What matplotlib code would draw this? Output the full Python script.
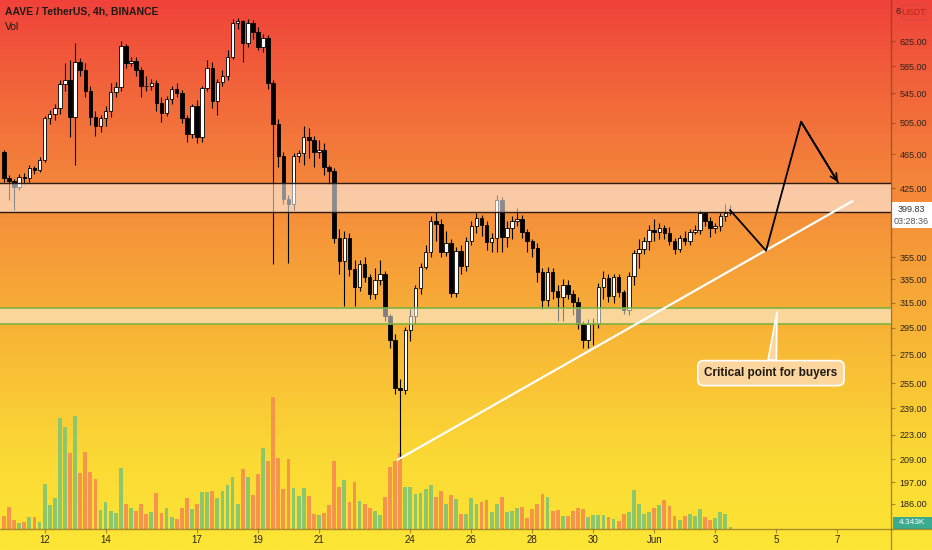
import numpy as np
import matplotlib
matplotlib.use('Agg')
import matplotlib.pyplot as plt
from matplotlib.colors import LinearSegmentedColormap
from matplotlib.patches import Rectangle, FancyBboxPatch
from matplotlib.lines import Line2D
from matplotlib.ticker import FixedLocator, FixedFormatter, NullLocator

plt.rcParams['font.family'] = ['Liberation Sans', 'DejaVu Sans']

# ---- data (AAVE/USDT 4h candles) ----
first_open = 467
closes = [437, 433, 427, 438, 437, 448, 446, 458, 511, 516,
          524, 558, 565, 512, 592, 580, 549, 512, 500, 511,
          521, 547, 554, 617, 590, 593, 580, 556, 555, 560,
          531, 518, 537, 552, 546, 511, 490, 527, 486, 553,
          582, 534, 562, 571, 600, 655, 658, 622, 655, 640,
          615, 630, 560, 503, 463, 413, 408, 463, 466, 486,
          482, 467, 470, 449, 445, 373, 351, 373, 344, 328,
          349, 337, 322, 334, 340, 304, 286, 252, 251, 293,
          304, 327, 346, 360, 390, 387, 360, 368, 323, 361,
          347, 370, 385, 393, 386, 369, 373, 412, 374, 383,
          390, 392, 379, 370, 364, 341, 317, 341, 325, 320,
          330, 322, 316, 298, 286, 298, 299, 328, 336, 321,
          337, 324, 309, 338, 359, 363, 370, 381, 379, 383,
          378, 370, 363, 373, 370, 379, 381, 398, 390, 383,
          385, 395, 398, 399.83]
highs = [470, 440, 436, 441, 442, 452, 451, 462, 514, 522,
         530, 565, 590, 595, 622, 598, 590, 556, 520, 515,
         528, 560, 562, 625, 620, 600, 600, 584, 570, 566,
         565, 540, 542, 556, 560, 550, 515, 530, 535, 556,
         595, 592, 566, 580, 610, 662, 664, 660, 662, 660,
         648, 636, 635, 565, 510, 468, 418, 466, 470, 500,
         498, 488, 482, 478, 452, 448, 382, 380, 378, 352,
         352, 355, 340, 345, 352, 342, 306, 290, 258, 296,
         310, 330, 350, 366, 395, 400, 392, 380, 372, 365,
         366, 374, 390, 398, 396, 390, 378, 418, 416, 390,
         395, 404, 396, 382, 372, 368, 345, 346, 345, 330,
         335, 334, 326, 320, 300, 302, 303, 332, 342, 340,
         340, 340, 326, 341, 362, 372, 374, 386, 392, 388,
         386, 384, 373, 376, 380, 382, 386, 402, 400, 394,
         388, 398, 408, 407]
lows = [432, 412, 402, 423, 430, 432, 441, 444, 455, 503,
        508, 516, 548, 486, 452, 570, 540, 502, 488, 492,
        500, 512, 540, 548, 582, 586, 570, 540, 548, 550,
        520, 506, 514, 530, 540, 505, 480, 485, 478, 480,
        548, 525, 515, 556, 565, 596, 645, 592, 615, 628,
        610, 608, 552, 349, 450, 408, 350, 402, 455, 452,
        460, 450, 460, 440, 430, 368, 340, 312, 338, 312,
        325, 333, 318, 318, 330, 300, 280, 248, 209, 248,
        285, 298, 322, 344, 355, 370, 355, 356, 320, 320,
        340, 342, 366, 378, 375, 362, 360, 360, 360, 365,
        372, 385, 373, 360, 355, 333, 310, 312, 318, 300,
        300, 318, 305, 294, 280, 280, 282, 295, 318, 316,
        315, 320, 306, 305, 330, 345, 358, 362, 370, 372,
        372, 366, 358, 360, 366, 366, 377, 377, 385, 374,
        378, 380, 390, 396]
volume = [13, 22, 9, 6, 7, 12, 12, 7, 45, 24,
          31, 111, 102, 76, 113, 56, 77, 57, 50, 19,
          27, 18, 16, 61, 25, 21, 18, 25, 15, 17,
          36, 16, 21, 12, 10, 21, 31, 20, 25, 37,
          37, 38, 31, 38, 44, 52, 25, 60, 52, 34,
          55, 81, 68, 132, 71, 40, 70, 41, 33, 41,
          33, 15, 14, 16, 24, 68, 42, 49, 27, 47,
          28, 25, 21, 18, 14, 32, 62, 68, 76, 42,
          42, 35, 36, 40, 44, 32, 38, 25, 34, 30,
          15, 15, 31, 25, 27, 29, 17, 25, 32, 17,
          18, 21, 22, 11, 20, 25, 35, 32, 18, 19,
          13, 13, 18, 21, 20, 12, 14, 14, 14, 12,
          10, 8, 15, 17, 39, 25, 15, 17, 21, 24,
          29, 23, 13, 9, 13, 15, 13, 20, 12, 9,
          11, 17, 15, 2]

first_candle_day = 10.668          # day of May of the first 4h candle
zone_top = [399.5, 431.0]          # resistance zone
zone_bottom = [298.0, 310.5]       # support zone
trend_days = [23.6, 38.5]
trend_prices = [209, 411]
path_days = [34.49, 35.67, 36.82, 38.03]
path_prices = [401.5, 361, 506, 432]
callout_tip = (36.03, 307.5)
callout_pos = (35.83, 262)

price_ticks = [186, 197, 209, 223, 239, 255, 275, 295, 315, 335, 355,
               425, 465, 505, 545, 585, 625]
day_ticks = [12, 14, 17, 19, 21, 24, 26, 28, 30, 32, 34, 36, 38]
day_labels = ['12', '14', '17', '19', '21', '24', '26', '28', '30',
              'Jun', '3', '5', '7']

# ---- figure ----
W, H = 932, 550
fig = plt.figure(figsize=(W / 100, H / 100), dpi=100)

bg = fig.add_axes([0, 0, 1, 1], zorder=0)
cmap = LinearSegmentedColormap.from_list(
    'bg', ['#F0423A', '#F2663B', '#F4863A', '#F6A238', '#F9BF36', '#FBD935', '#FDE634'])
bg.imshow(np.linspace(0, 1, 256).reshape(-1, 1), aspect='auto', cmap=cmap,
          extent=[0, 1, 0, 1])
bg.axis('off')

rect = [0, 21 / H, 891 / W, 529 / H]
vax = fig.add_axes(rect, zorder=1)
ax = fig.add_axes(rect, zorder=2, sharex=vax)
ax.patch.set_alpha(0)
vax.patch.set_alpha(0)

opens = np.array([first_open] + closes[:-1], dtype=float)
closes = np.array(closes, dtype=float)
times = first_candle_day + np.arange(len(closes)) / 6.0
up = closes >= opens

# volume
vcol = np.where(up, '#8dc66b', '#f5944a')
vax.bar(times, volume, width=0.125, color=vcol, linewidth=0)
vax.set_ylim(0, max(volume) * 4.0)
vax.axis('off')

# candles
ax.set_yscale('log')
ax.vlines(times, lows, highs, color='black', lw=0.8, zorder=2)
lo = np.minimum(opens, closes)
hi = np.maximum(opens, closes)
ax.bar(times, hi - lo, bottom=lo, width=0.115,
       color=np.where(up, 'white', 'black'), edgecolor='black', lw=0.6, zorder=2.5)

# zones
ax.axhspan(zone_top[0], zone_top[1], color='white', alpha=0.55, lw=0, zorder=3)
for p in zone_top:
    ax.axhline(p, color='#2b1d14', lw=1.0, zorder=3.2)
ax.axhspan(zone_bottom[0], zone_bottom[1], color='white', alpha=0.5, lw=0, zorder=3)
for p in zone_bottom:
    ax.axhline(p, color='#7cb342', lw=1.2, zorder=3.2)

# trend line and projected path
ax.plot(trend_days, trend_prices, color='white', lw=1.6, zorder=5)
ax.plot(path_days, path_prices, color='black', lw=1.3, zorder=5)
ax.annotate('', xy=(path_days[-1], path_prices[-1]),
            xytext=(path_days[-2], path_prices[-2]),
            arrowprops=dict(arrowstyle='->', color='black', lw=1.3,
                            mutation_scale=12, shrinkA=0, shrinkB=0), zorder=5)

# callout
ax.annotate('Critical point for buyers', xy=callout_tip, xytext=callout_pos,
            ha='center', va='center', fontsize=8.5, fontweight='semibold',
            color='#1f1a14', zorder=6,
            bbox=dict(boxstyle='round,pad=0.55,rounding_size=0.5', fc='#fcd69c',
                      ec='white', lw=1.2),
            arrowprops=dict(arrowstyle='wedge,tail_width=0.7,shrink_factor=0.5',
                            fc='#fcd69c', ec='white', lw=1.2,
                            shrinkA=0, shrinkB=0))

# axes, ticks
ax.set_xlim(10.537, 39.77)
ax.set_ylim(174.2, 696)
ax.yaxis.set_major_locator(FixedLocator(price_ticks))
ax.yaxis.set_major_formatter(FixedFormatter(['%.2f' % p for p in price_ticks]))
ax.yaxis.set_minor_locator(NullLocator())
ax.yaxis.tick_right()
ax.set_xticks(day_ticks)
ax.set_xticklabels(day_labels)
axis_col = (0.35, 0.22, 0.1, 0.5)
ax.tick_params(axis='both', labelsize=6.5, labelcolor='#2a2420', color=axis_col,
               length=3, width=0.8)
ax.tick_params(axis='x', pad=1.5, labelsize=7)
ax.tick_params(axis='y', pad=3)
for s in ['top', 'left', 'right', 'bottom']:
    ax.spines[s].set_visible(False)

# axis lines across full figure
fig.add_artist(Line2D([891 / W, 891 / W], [0, 1], color=axis_col, lw=1))
fig.add_artist(Line2D([0, 1], [21 / H, 21 / H], color=axis_col, lw=1))

# header text
fig.text(5 / W, 1 - 12 / H, 'AAVE / TetherUS, 4h, BINANCE', fontsize=7.5,
         fontweight='bold', color='#1e1a16', va='center')
fig.text(5 / W, 1 - 27 / H, 'Vol', fontsize=7.5, color='#1e1a16', va='center')

# currency badge
fig.text(895 / W, 1 - 12 / H, '6', fontsize=6.5, color='#2a2420', va='center')
fig.add_artist(FancyBboxPatch((901 / W, 1 - 20 / H), 25 / W, 15 / H,
                              boxstyle='round,pad=0,rounding_size=0.004',
                              transform=fig.transFigure, fc='none', ec='#d9473b', lw=0.9))
fig.text(913.5 / W, 1 - 12.5 / H, 'USDT', fontsize=6.5, color='#b3261e', ha='center', va='center')

# last price label
fig.add_artist(Rectangle((892 / W, 1 - 228 / H), 40 / W, 26 / H,
                         transform=fig.transFigure, fc='white', ec='none'))
fig.text(911 / W, 1 - 209 / H, '%.2f' % closes[-1], fontsize=6.5, color='#333333',
         ha='center', va='center')
fig.text(911 / W, 1 - 221 / H, '03:28:36', fontsize=6.5, color='#555555',
         ha='center', va='center')

# volume badge
fig.add_artist(Rectangle((893 / W, 1 - 529 / H), 39 / W, 12 / H,
                         transform=fig.transFigure, fc='#26a69a', ec='none', alpha=0.9))
fig.text(912 / W, 1 - 523 / H, '4.343K', fontsize=6, color='white',
         ha='center', va='center')

fig.savefig('out.png', dpi=100)
